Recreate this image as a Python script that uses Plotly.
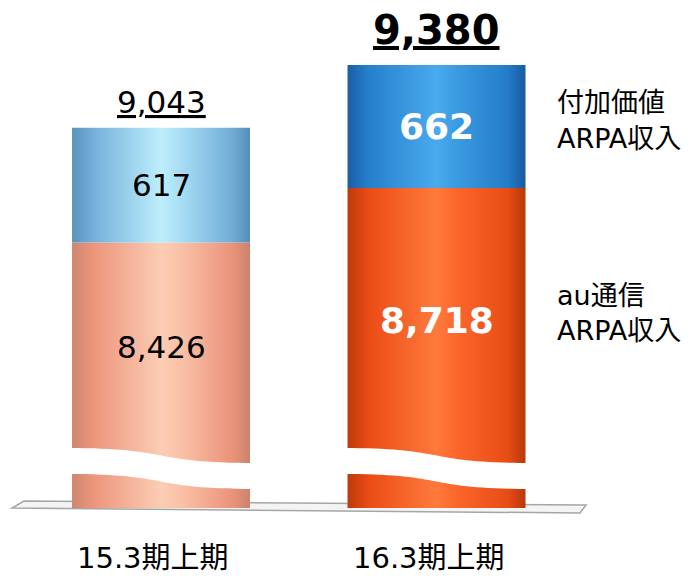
import plotly.graph_objects as go

# ── Data ──────────────────────────────────────────────────────────
categories = ["15.3期上期", "16.3期上期"]
au_arpa = [8426, 8718]          # au通信ARPA収入
value_added = [617, 662]        # 付加価値ARPA収入
totals = [a + v for a, v in zip(au_arpa, value_added)]
series_lines = {"value_added": ["付加価値", "ARPA収入"], "au": ["au通信", "ARPA収入"]}

# ── Layout constants (viewport pixels; page body has an 8px margin) ──
FONT = "DejaVu Sans, Noto Sans CJK JP, sans-serif"
OFF = 8
W, H = 696 - OFF, 576 - OFF
BOTTOM = 508                    # viewport row of the bar bottom / plot bottom
PLOT_H = BOTTOM - OFF
Y_MIN, Y_MAX = 6998, 9686.5     # broken axis: bars start far below the cut
X_MIN, X_MAX = -0.5554, 1.9419
HALF = 0.323                    # half bar width in category units
BREAK_TOP = 452                 # where the wavy cut starts

# cylinder shading: dark edge -> light centre -> dark edge
orange_scales = [
    [[0, "#cf8670"], [0.12, "#ec957c"], [0.5, "#fbcdb4"], [0.62, "#f9c0a6"], [0.9, "#ea937a"], [1, "#cc826c"]],
    [[0, "#bc3a0c"], [0.12, "#ea4c16"], [0.5, "#ff7a3c"], [0.62, "#fb652a"], [0.9, "#e84c16"], [1, "#b8380a"]],
]
blue_scales = [
    [[0, "#5a92bc"], [0.12, "#74b0da"], [0.5, "#bdeefb"], [0.62, "#a6dcf4"], [0.9, "#70acd6"], [1, "#568eba"]],
    [[0, "#1a5ea6"], [0.12, "#2680cc"], [0.5, "#4aaaee"], [0.62, "#3a9ae0"], [0.9, "#247cc8"], [1, "#185aa0"]],
]


def y_at(vy):
    """viewport row -> y data value"""
    return Y_MAX - (vy - OFF) / PLOT_H * (Y_MAX - Y_MIN)


def py(vy):
    """viewport row -> paper y"""
    return (BOTTOM - vy) / PLOT_H


def px(vx):
    """viewport column -> paper x"""
    return (vx - OFF) / W


fig = go.Figure()

for i, cat in enumerate(categories):
    x0, x1 = i - HALF, i + HALF
    segs = [
        (0, au_arpa[i], orange_scales[i], "au通信ARPA収入"),
        (au_arpa[i], totals[i], blue_scales[i], "付加価値ARPA収入"),
    ]
    for lo, hi, scale, name in segs:
        fig.add_trace(
            go.Scatter(
                x=[x0, x1, x1, x0, x0],
                y=[lo, lo, hi, hi, lo],
                mode="lines",
                line=dict(width=0),
                fill="toself",
                fillgradient=dict(type="horizontal", colorscale=scale),
                name=name,
                hovertemplate=f"{cat} {name}: {hi - lo:,}<extra></extra>",
                showlegend=False,
            )
        )

shapes = []
# floor plate
shapes.append(dict(
    type="path", xref="paper", yref="paper",
    path=(f"M {px(24)},{py(501)} L {px(586)},{py(505)} "
          f"L {px(580)},{py(513)} L {px(12)},{py(508)} Z"),
    line=dict(color="#a6a6a6", width=1.5), fillcolor="#f4f4f4", layer="below",
))
# wavy white cut through each bar (axis break)
for i in range(len(categories)):
    a, b = i - HALF - 0.02, i + HALF + 0.02
    m1, m2 = i + 0.05, i - 0.05
    t0, t1 = y_at(BREAK_TOP - 4), y_at(BREAK_TOP + 11)
    b0, b1 = y_at(BREAK_TOP + 22), y_at(BREAK_TOP + 37)
    shapes.append(dict(
        type="path", xref="x", yref="y",
        path=(f"M {a},{t0} C {m1},{t0} {m2},{t1} {b},{t1} "
              f"L {b},{b1} C {m2},{b1} {m1},{b0} {a},{b0} Z"),
        line=dict(width=0), fillcolor="white", layer="above",
    ))

annotations = []


def label(x, y, text, size, color="black", bold=False, xref="x", yref="y", **kw):
    annotations.append(dict(
        x=x, y=y, xref=xref, yref=yref, text=text, showarrow=False,
        xanchor=kw.pop("xanchor", "center"), yanchor="middle",
        font=dict(size=size, color=color, family=FONT,
                  weight="bold" if bold else "normal", **kw.pop("font", {})),
        **kw,
    ))


# totals (underlined) above the bars
label(0, py(102), f"{totals[0]:,}", 31, yref="paper", font=dict(lineposition="under"))
label(1, py(30), f"{totals[1]:,}", 40, bold=True, yref="paper", font=dict(lineposition="under"))

# segment labels
for i in range(len(categories)):
    bold = i == 1
    col = "white" if bold else "black"
    size = 36 if bold else 31
    label(i, au_arpa[i] + value_added[i] / 2, f"{value_added[i]:,}", size, col, bold)
    label(i, (au_arpa[i] + y_at(BREAK_TOP)) / 2, f"{au_arpa[i]:,}", size, col, bold)

# category labels under the floor
for i, cat in enumerate(categories):
    label(i, py(558), cat, 29, yref="paper", xshift=-8)

# series labels on the right
for lines, top in [(series_lines["value_added"], 103), (series_lines["au"], 295)]:
    for k, line in enumerate(lines):
        label(px(555), py(top + 35 * k), line, 27, xref="paper", yref="paper", xanchor="left")

fig.update_layout(
    width=W, height=H,
    margin=dict(l=0, r=0, t=0, b=H - PLOT_H),
    paper_bgcolor="white", plot_bgcolor="white",
    xaxis=dict(range=[X_MIN, X_MAX], visible=False, fixedrange=True),
    yaxis=dict(range=[Y_MIN, Y_MAX], visible=False, fixedrange=True),
    shapes=shapes,
    annotations=annotations,
    showlegend=False,
)

fig.write_html("out.html")
